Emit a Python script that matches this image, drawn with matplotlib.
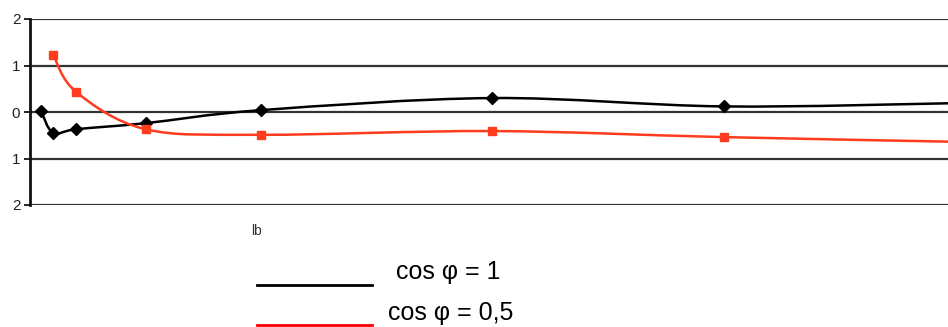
import matplotlib
matplotlib.use('Agg')
import matplotlib.pyplot as plt
from matplotlib.path import Path
from matplotlib.patches import PathPatch

plt.rcParams['font.family'] = ['Liberation Sans', 'DejaVu Sans']

# data
cos1_x = [0.048, 0.1, 0.2, 0.5, 1, 2, 3, 4]
cos1 = [0.02, -0.45, -0.37, -0.24, 0.04, 0.30, 0.12, 0.19]
cos05_x = [0.1, 0.2, 0.5, 1, 2, 3, 4]
cos05 = [1.23, 0.43, -0.37, -0.49, -0.41, -0.54, -0.64]
ytick_vals = [-2, -1, 0, 1, 2]
ytick_labels = ['2', '1', '0', '1', '2']


def smooth_path(xs, ys, k=1/6.):
    # catmull-rom style bezier, like the smoothed lines in a spreadsheet chart
    pts = list(zip(xs, ys))
    verts = [pts[0]]
    codes = [Path.MOVETO]
    n = len(pts)
    for i in range(n - 1):
        p0 = pts[i - 1] if i > 0 else pts[i]
        p1 = pts[i]
        p2 = pts[i + 1]
        p3 = pts[i + 2] if i + 2 < n else pts[i + 1]
        c1 = (p1[0] + (p2[0] - p0[0]) * k, p1[1] + (p2[1] - p0[1]) * k)
        c2 = (p2[0] - (p3[0] - p1[0]) * k, p2[1] - (p3[1] - p1[1]) * k)
        verts += [c1, c2, p2]
        codes += [Path.CURVE4] * 3
    return Path(verts, codes)


fig = plt.figure(figsize=(9.48, 3.27), dpi=100)
ax = fig.add_axes([30/948, 122/327, 918/948, 186/327])
ax.set_xlim(0, 3.97)
ax.set_ylim(-2, 2)

for y in ytick_vals:
    ax.axhline(y, color='#333333', lw=1.6, zorder=1)

red = '#ff3c1e'
ax.add_patch(PathPatch(smooth_path(cos1_x, cos1), fill=False, color='black', lw=1.8, zorder=3))
ax.plot(cos1_x, cos1, ls='none', marker='D', ms=6, color='black', zorder=4)
ax.add_patch(PathPatch(smooth_path(cos05_x, cos05), fill=False, color=red, lw=1.8, zorder=5))
ax.plot(cos05_x, cos05, ls='none', marker='s', ms=6, color=red, zorder=6)

for s in ['top', 'right', 'bottom']:
    ax.spines[s].set_visible(False)
ax.spines['left'].set_linewidth(2)
ax.spines['left'].set_color('#111111')
ax.set_xticks([])
ax.set_yticks(ytick_vals)
ax.set_yticklabels(ytick_labels, fontsize=11, color='#222222')
ax.tick_params(axis='y', length=4, width=1.2, pad=3)

fig.text(257/948, 1 - 231/327, 'lb', fontsize=10, color='#333333', ha='center', va='center')

# legend drawn by hand below the chart
fig.add_artist(plt.Line2D([257/948, 372/948], [1 - 285/327, 1 - 285/327], color='black', lw=2))
fig.add_artist(plt.Line2D([257/948, 372/948], [1 - 325/327, 1 - 325/327], color='red', lw=2))
fig.text(396/948, 1 - 272/327, 'cos φ = 1', fontsize=18, ha='left', va='center')
fig.text(388/948, 1 - 313/327, 'cos φ = 0,5', fontsize=18, ha='left', va='center')

fig.savefig('out.png', dpi=100)
